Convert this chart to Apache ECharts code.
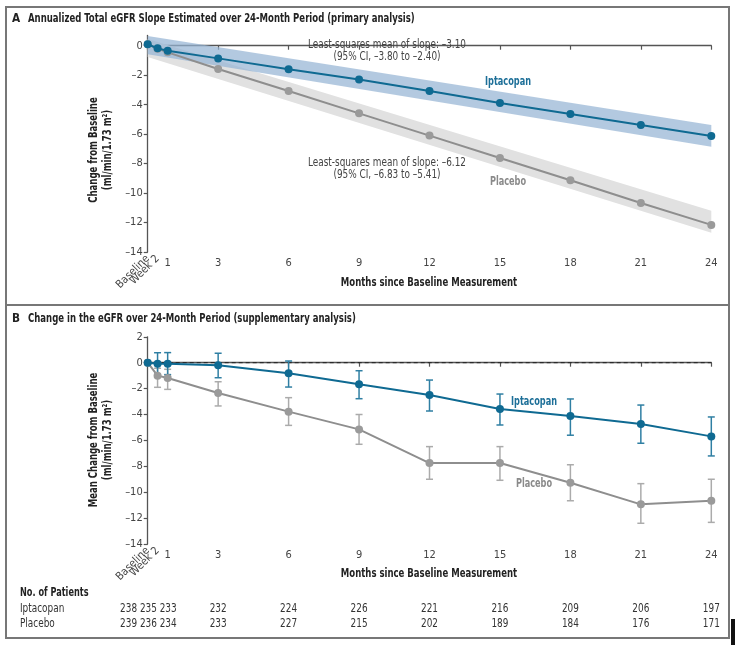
<!DOCTYPE html>
<html><head><meta charset="utf-8">
<script src="https://cdn.jsdelivr.net/npm/echarts@6/dist/echarts.min.js"></script>
<style>html,body{margin:0;padding:0;background:#fff}#c{width:738px;height:645px}</style>
</head><body><div id="c"></div>
<script>
// ---------- DATA ----------
const xLabels = ['Baseline', 'Week 2', '1', '3', '6', '9', '12', '15', '18', '21', '24'];
const xMonths = [0, 0.42, 0.85, 3, 6, 9, 12, 15, 18, 21, 24];
const yTicksTop = [0, -2, -4, -6, -8, -10, -12, -14];
const yTicksBottom = [2, 0, -2, -4, -6, -8, -10, -12, -14];

// Panel A: modelled slope estimates
const iptaSlope = [0.1, -0.18, -0.34, -0.86, -1.6, -2.3, -3.07, -3.89, -4.63, -5.38, -6.13];
const placeboSlope = [0.1, -0.2, -0.45, -1.58, -3.07, -4.59, -6.1, -7.62, -9.13, -10.67, -12.16];
const bandMonths = [0, 24];
const iptaBandUpper = [0.66, -5.38];
const iptaBandLower = [-0.58, -6.85];
const placeboBandUpper = [0.45, -11.2];
const placeboBandLower = [-0.77, -12.7];

// Panel B: observed mean change with 95% CI
const iptaMean = [0, -0.08, -0.08, -0.2, -0.82, -1.67, -2.49, -3.58, -4.12, -4.73, -5.69];
const iptaLow = [null, -0.9, -0.92, -1.16, -1.88, -2.78, -3.73, -4.81, -5.6, -6.22, -7.2];
const iptaHigh = [null, 0.77, 0.78, 0.73, 0.13, -0.62, -1.34, -2.42, -2.8, -3.27, -4.19];
const placeboMean = [0, -1.0, -1.18, -2.34, -3.78, -5.15, -7.75, -7.75, -9.27, -10.94, -10.66];
const placeboLow = [null, -1.9, -2.06, -3.34, -4.84, -6.3, -9.0, -9.08, -10.66, -12.4, -12.33];
const placeboHigh = [null, -0.43, -0.51, -1.47, -2.7, -4.0, -6.48, -6.48, -7.88, -9.34, -9.0];

// Number of patients
const iptaN = [238, 235, 233, 232, 224, 226, 221, 216, 209, 206, 197];
const placeboN = [239, 236, 234, 233, 227, 215, 202, 189, 184, 176, 171];

// ---------- STYLE ----------
const FONT = "'DejaVu Sans Condensed', 'Liberation Sans', sans-serif";
const BLUE = '#0f6a92', BLUE_ERR = '#2f7fa3', BLUE_BAND = 'rgba(150,180,212,0.72)';
const GREY = '#8e8e8e', GREY_PT = '#9a9a9a', GREY_ERR = '#ababab', GREY_BAND = '#e1e1e1';
const AXIS = '#555';
const SX_BOLD = 0.79, SX_REG = 0.86;

const chart = echarts.init(document.getElementById('c'), null, { renderer: 'canvas' });

function labelFor(v) {
  const i = xMonths.indexOf(v);
  return i >= 0 ? xLabels[i] : '';
}
function yFmt(v) { return v < 0 ? '\u2013' + Math.abs(v) : String(v); }

function xAxes(grid) {
  const base = {
    type: 'value', gridIndex: grid, position: 'bottom', min: 0, max: 24, splitLine: { show: false }
  };
  const rotLabel = function (vals) {
    return Object.assign({}, base, {
      axisLine: { show: false }, axisTick: { show: false },
      axisLabel: { customValues: vals, formatter: labelFor, rotate: 45, hideOverlap: false,
        showMinLabel: true, showMaxLabel: true,
        color: '#444', fontFamily: FONT, fontSize: 11, margin: 5 }
    });
  };
  return [
    Object.assign({}, base, {
      axisLine: { lineStyle: { color: AXIS, width: 1.3 } },
      axisTick: { customValues: xMonths, length: 4, lineStyle: { color: AXIS, width: 1.2 } },
      axisLabel: { customValues: xMonths.slice(2), formatter: labelFor, color: '#444',
        fontFamily: FONT, fontSize: 11, margin: 6 }
    }),
    rotLabel([xMonths[0]]),
    rotLabel([xMonths[1]])
  ];
}
function yAxis(grid, min, max, ticks) {
  return {
    type: 'value', gridIndex: grid, min: min, max: max, splitLine: { show: false },
    axisLine: { show: true, lineStyle: { color: AXIS, width: 1.3 } },
    axisTick: { show: true, customValues: ticks, length: 4, lineStyle: { color: AXIS, width: 1.2 } },
    axisLabel: { customValues: ticks, formatter: yFmt, color: '#444', fontFamily: FONT, fontSize: 11, margin: 5 }
  };
}

function bandSeries(upper, lower, color, xi, yi) {
  return {
    type: 'custom', xAxisIndex: xi, yAxisIndex: yi, silent: true, z: 1,
    data: bandMonths.map((m, i) => [m, upper[i], lower[i]]),
    encode: { x: 0, y: [1, 2] },
    renderItem: function (params, api) {
      if (params.dataIndex !== 0) return null;
      const top = bandMonths.map((m, i) => api.coord([m, upper[i]]));
      const bot = bandMonths.map((m, i) => api.coord([m, lower[i]])).reverse();
      return { type: 'polygon', shape: { points: top.concat(bot) }, style: { fill: color } };
    }
  };
}
function errSeries(low, high, color, xi, yi) {
  return {
    type: 'custom', xAxisIndex: xi, yAxisIndex: yi, silent: true, z: 3,
    data: xMonths.map((m, i) => [m, low[i] == null ? NaN : low[i], high[i] == null ? NaN : high[i]]),
    encode: { x: 0, y: [1, 2] },
    renderItem: function (params, api) {
      const lo = api.value(1), hi = api.value(2);
      if (isNaN(lo) || isNaN(hi)) return null;
      const a = api.coord([api.value(0), hi]), b = api.coord([api.value(0), lo]);
      const w = 3.5, st = { stroke: color, lineWidth: 1.5 };
      return { type: 'group', children: [
        { type: 'line', shape: { x1: a[0], y1: a[1], x2: b[0], y2: b[1] }, style: st },
        { type: 'line', shape: { x1: a[0] - w, y1: a[1], x2: a[0] + w, y2: a[1] }, style: st },
        { type: 'line', shape: { x1: b[0] - w, y1: b[1], x2: b[0] + w, y2: b[1] }, style: st }
      ] };
    }
  };
}
function lineSeries(vals, lineColor, ptColor, xi, yi, z) {
  return {
    type: 'line', xAxisIndex: xi, yAxisIndex: yi, z: z,
    data: xMonths.map((m, i) => [m, vals[i]]),
    symbol: 'circle', symbolSize: 8, showSymbol: true,
    itemStyle: { color: ptColor }, lineStyle: { color: lineColor, width: 2 },
    emphasis: { disabled: true }, animation: false
  };
}

const option = {
  animation: false,
  textStyle: { fontFamily: FONT },
  grid: [
    { left: 147.7, right: 26.7, top: 35.4, bottom: 393 },
    { left: 147.7, right: 26.7, top: 336.8, bottom: 101 }
  ],
  xAxis: xAxes(0).concat(xAxes(1)),
  yAxis: [
    yAxis(0, -14, 0.7, yTicksTop),
    yAxis(1, -14, 2, yTicksBottom)
  ],
  series: [
    bandSeries(placeboBandUpper, placeboBandLower, GREY_BAND, 0, 0),
    bandSeries(iptaBandUpper, iptaBandLower, BLUE_BAND, 0, 0),
    lineSeries(placeboSlope, GREY, GREY_PT, 0, 0, 4),
    lineSeries(iptaSlope, BLUE, BLUE, 0, 0, 5),
    {
      type: 'line', xAxisIndex: 3, yAxisIndex: 1, z: 2, symbol: 'none', silent: true,
      data: [[0, 0], [24, 0]], lineStyle: { color: '#222', width: 1, type: [4, 3] }
    },
    errSeries(placeboLow, placeboHigh, GREY_ERR, 3, 1),
    errSeries(iptaLow, iptaHigh, BLUE_ERR, 3, 1),
    lineSeries(placeboMean, GREY, GREY_PT, 3, 1, 4),
    lineSeries(iptaMean, BLUE, BLUE, 3, 1, 5)
  ]
};
chart.setOption(option);

// ---------- annotations, frame and table ----------
function txt(x, y, text, opts, sx, rot) {
  const bold = opts && opts.fontWeight === 'bold';
  return { type: 'text', x: x, y: y, silent: true, z: 10,
    scaleX: sx || (bold ? SX_BOLD : SX_REG), rotation: rot || 0,
    style: Object.assign({ text: text, fontFamily: FONT, fontSize: 11.5, fill: '#333',
      verticalAlign: 'middle', textAlign: 'left' }, opts || {}) };
}
const B = { fontWeight: 'bold', fontSize: 12, fill: '#222' };
const g = [
  { type: 'rect', shape: { x: 6, y: 7, width: 723, height: 631 }, style: { fill: 'none', stroke: '#777', lineWidth: 2 }, silent: true },
  { type: 'line', shape: { x1: 6, y1: 305, x2: 729, y2: 305 }, style: { stroke: '#777', lineWidth: 2 }, silent: true },
  { type: 'rect', shape: { x: 731, y: 619, width: 4, height: 26 }, style: { fill: '#111' }, silent: true },
  txt(12, 18.5, 'A', { fontWeight: 'bold', fontSize: 13, fill: '#222' }, 0.9),
  txt(28, 18.5, 'Annualized Total eGFR Slope Estimated over 24-Month Period (primary analysis)', B),
  txt(12, 318.5, 'B', { fontWeight: 'bold', fontSize: 13, fill: '#222' }, 0.9),
  txt(28, 318.5, 'Change in the eGFR over 24-Month Period (supplementary analysis)', B),
  // axis titles
  txt(101, 150, 'Change from Baseline\n(ml/min/1.73 m\u00b2)', Object.assign({ textAlign: 'center', lineHeight: 13.5 }, B), SX_BOLD, Math.PI / 2),
  txt(101, 440, 'Mean Change from Baseline\n(ml/min/1.73 m\u00b2)', Object.assign({ textAlign: 'center', lineHeight: 13.5 }, B), SX_BOLD, Math.PI / 2),
  txt(429, 283, 'Months since Baseline Measurement', Object.assign({ textAlign: 'center' }, B)),
  txt(429, 574, 'Months since Baseline Measurement', Object.assign({ textAlign: 'center' }, B)),
  // annotations
  txt(387, 45, 'Least-squares mean of slope: \u20133.10', { textAlign: 'center', fill: '#444' }),
  txt(387, 57.5, '(95% CI, \u20133.80 to \u20132.40)', { textAlign: 'center', fill: '#444' }),
  txt(387, 163, 'Least-squares mean of slope: \u20136.12', { textAlign: 'center', fill: '#444' }),
  txt(387, 175.5, '(95% CI, \u20136.83 to \u20135.41)', { textAlign: 'center', fill: '#444' }),
  txt(508, 82, 'Iptacopan', { textAlign: 'center', fontWeight: 'bold', fill: '#1d6f98' }),
  txt(508, 182, 'Placebo', { textAlign: 'center', fontWeight: 'bold', fill: '#8a8a8a' }),
  txt(534, 402, 'Iptacopan', { textAlign: 'center', fontWeight: 'bold', fill: '#1d6f98' }),
  txt(534, 484, 'Placebo', { textAlign: 'center', fontWeight: 'bold', fill: '#8a8a8a' }),
  txt(20, 593, 'No. of Patients', { fontWeight: 'bold', fontSize: 11.5, fill: '#222' }),
  txt(20, 609, 'Iptacopan', { fill: '#333' }),
  txt(20, 624.5, 'Placebo', { fill: '#333' })
];
const rows = [[iptaN, 609], [placeboN, 624.5]];
rows.forEach(function (r) {
  const n = r[0], y = r[1];
  const xEnd = chart.convertToPixel({ xAxisIndex: 3 }, xMonths[2]) + 9;
  g.push(txt(xEnd, y, n.slice(0, 3).join(' '), { textAlign: 'right' }));
  for (let i = 3; i < n.length; i++) {
    const px = chart.convertToPixel({ xAxisIndex: 3 }, xMonths[i]);
    g.push(txt(px, y, String(n[i]), { textAlign: 'center' }));
  }
});
chart.setOption({ graphic: { elements: g } });
</script></body></html>
